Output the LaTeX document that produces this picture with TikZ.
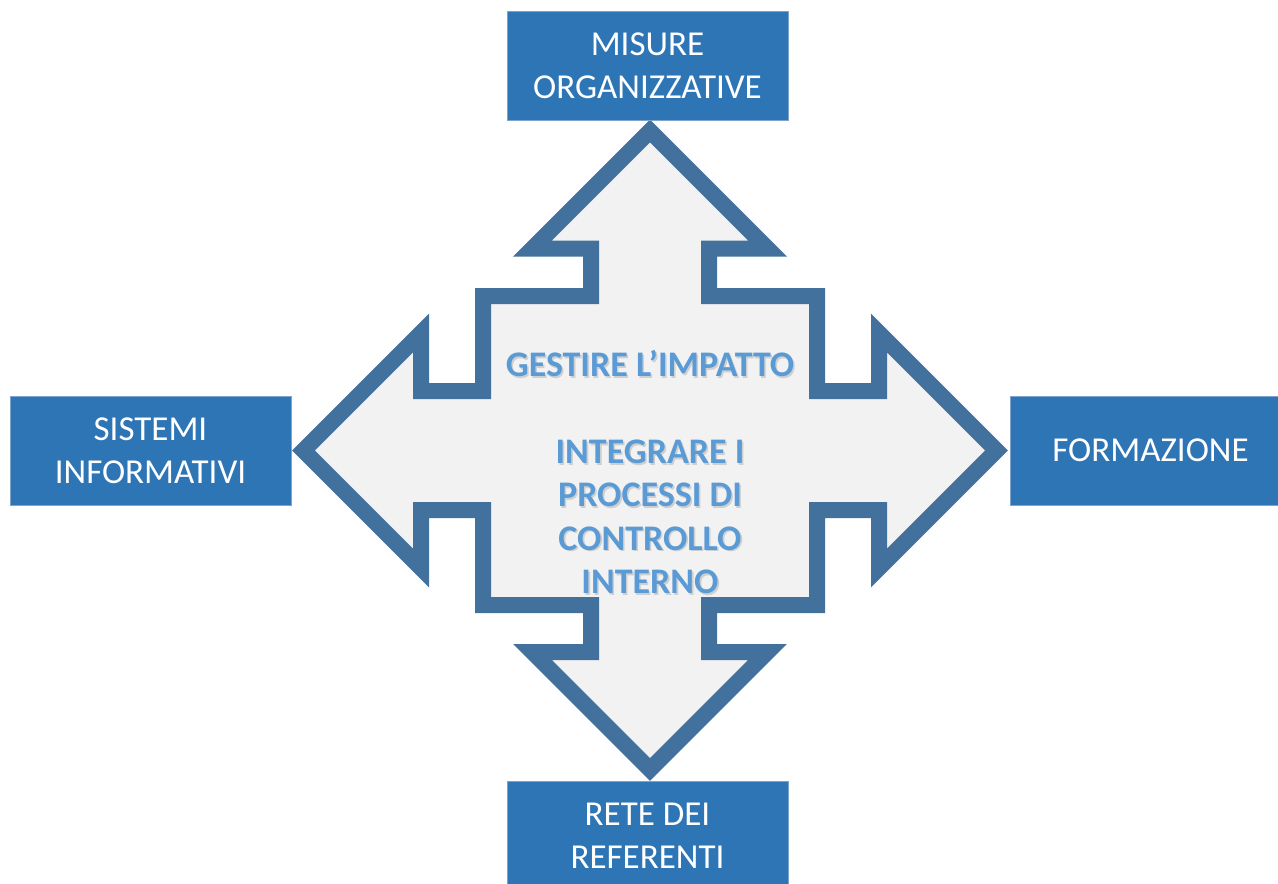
\documentclass[tikz,border=0pt]{standalone}
\usepackage{fontspec}
\setmainfont{Carlito}
\definecolor{boxblue}{HTML}{2E75B6}
\definecolor{boxedge}{HTML}{7FA3CC}
\definecolor{arrowedge}{HTML}{41719C}
\definecolor{arrowfill}{HTML}{F2F2F2}
\definecolor{centertext}{HTML}{5B9BD5}
\definecolor{shadowgray}{HTML}{CFCFCF}
\newcommand{\shadowed}[1]{\leavevmode\rlap{\kern1.6pt\raisebox{-1.8pt}{\textcolor{shadowgray}{#1}}}#1}
\tikzset{
  outerbox/.style={draw=boxedge, line width=1pt, fill=boxblue, text=white,
    minimum width=281pt, minimum height=109pt, inner sep=0pt, align=center,
    font=\fontsize{35}{43}\selectfont},
  quadarrow/.style={draw=arrowedge, fill=arrowfill, line width=16pt, line join=miter, miter limit=10},
  centerlabel/.style={align=center, inner sep=0pt, text=centertext, font=\fontsize{36}{43.3}\selectfont\bfseries}
}
\begin{document}
\begin{tikzpicture}[x=1pt,y=-1pt]
\useasboundingbox (0,0) rectangle (1278,884);
\clip (0,0) rectangle (1278,884);
\fill[white] (0,0) rectangle (1278,884);
% quad arrow
\draw[quadarrow]
 (650,131) -- (767.5,248.5) -- (709,248.5) -- (709,296) -- (817,296) -- (817,391)
 -- (879,391) -- (879,333) -- (996.5,450.5) -- (879,568) -- (879,510) -- (817,510)
 -- (817,605) -- (709,605) -- (709,652) -- (767.5,652) -- (650,769.5) -- (532.5,652)
 -- (591,652) -- (591,605) -- (483,605) -- (483,510) -- (421,510) -- (421,568)
 -- (303.5,450.5) -- (421,333) -- (421,391) -- (483,391) -- (483,296) -- (591,296)
 -- (591,248.5) -- (532.5,248.5) -- cycle;
% center text with soft shadow
\node[centerlabel] (center) at (650,473)
 {\shadowed{GESTIRE L’IMPATTO}\\ \mbox{}\\ \shadowed{INTEGRARE I}\\ \shadowed{PROCESSI DI}\\ \shadowed{CONTROLLO}\\ \shadowed{INTERNO}};
% outer boxes
\node[outerbox] (top) at (647.5,65.5) {MISURE\\ORGANIZZATIVE};
\node[outerbox] (left) at (150.5,450.5) {SISTEMI\\INFORMATIVI};
\node[outerbox] (right) at (1150.5,450.5) {FORMAZIONE};
\node[outerbox] (bottom) at (647.5,835.5) {RETE DEI\\REFERENTI};
\end{tikzpicture}
\end{document}
